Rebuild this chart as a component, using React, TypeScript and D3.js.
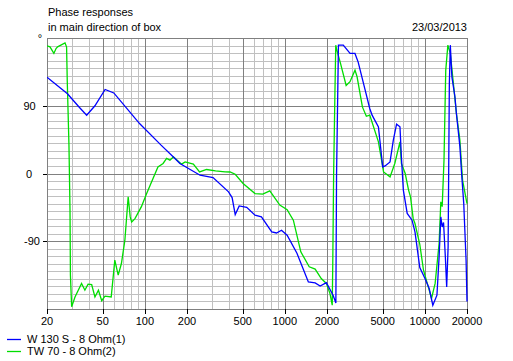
import React from "react";
import * as d3 from "d3";

const titleLines = ["Phase responses", "in main direction of box"];
const dateLabel = "23/03/2013";
const xTickValues = [20, 50, 100, 200, 500, 1000, 2000, 5000, 10000, 20000];
const yTickValues = [180, 90, 0, -90];
const yTickLabels = ["°", "90", "0", "-90"];
const seriesNames = ["W 130 S - 8 Ohm(1)", "TW 70 - 8 Ohm(2)"];

const blueFreq = [20, 28, 34, 38.4, 44, 52, 60, 92, 130, 164, 178, 248, 307, 396, 420, 442, 472, 534, 612, 680, 806, 872, 946, 1038, 1220, 1472, 1646, 1786, 1980, 2210, 2314, 2340, 2414, 2614, 2922, 3168, 3340, 3720, 4040, 4200, 4660, 5000, 5200, 5640, 5950, 6280, 6640, 6800, 7020, 7480, 8100, 8500, 8660, 9200, 10020, 10740, 11400, 12200, 12640, 13000, 13300, 13600, 14000, 14320, 14660, 14960, 15200, 15600, 16400, 16800, 17800, 18300, 18960, 19300, 19700, 20000];
const bluePhase = [128, 106, 88, 77.5, 90, 111.6, 107, 66, 38, 20, 13.3, -2.3, -5.3, -24.4, -32, -54.5, -43, -45, -55.4, -57.7, -77.6, -79, -75.4, -82, -106, -144, -145.4, -149.4, -145, -161.7, -172, -2, 170.5, 170.5, 159.5, 159.5, 148, 113, 86.4, 77.5, 62, 8.8, 10, 15.4, 44, 65.5, 62, 22, -22, -53, -62, -77.6, -88.6, -125, -139.6, -152.8, -175, -161.7, -110.8, -57.7, -71, -65, -110, -150.7, -97.5, 119.6, 170.5, 128.4, 102, 79.7, 35.4, 0, -40, -75, -115, -170];

const greenFreq = [20, 21, 22.4, 23.2, 23.8, 26.9, 27.6, 27.9, 28.7, 29.2, 29.4, 30, 31.7, 35.3, 37.3, 39.3, 41.7, 44, 46.6, 49.2, 51.9, 57.5, 61, 64.5, 68, 72, 76, 78.6, 80.5, 85, 94.5, 103, 124, 135, 143, 151, 160, 183, 194, 222, 246, 276, 320, 374, 406, 442, 503, 612, 696, 781, 920, 1038, 1150, 1300, 1493, 1646, 1820, 1980, 2100, 2180, 2200, 2230, 2280, 2310, 2350, 2500, 2740, 2920, 3170, 3280, 3580, 3820, 4040, 4660, 5070, 5640, 6100, 6640, 6800, 7240, 7650, 7900, 8250, 8500, 9200, 9780, 10740, 11160, 11840, 12640, 13000, 13300, 13700, 14100, 14600, 15200, 15900, 16800, 17800, 18600, 20000];
const greenPhase = [169.6, 168.3, 159.5, 166, 168.3, 173.6, 168, 124, 37.6, -48.8, -135, -177, -164, -146, -155, -147, -147.5, -164, -155, -169, -163, -164, -115, -135, -119.6, -88.6, -31, -57.7, -64.3, -60, -44, -26.6, 8.8, 13.3, 20, 17.7, 22, 12.4, 15.4, 12.4, 2.1, 5.3, 3.5, 2.1, 2, -1, -13.3, -26.6, -27.5, -23, -42, -48, -62, -104, -124, -127, -139.5, -146, -159.5, -175, -117, -3, 110.7, 170.5, 164, 146, 117, 122, 137.3, 128.5, 88.5, 76, 77.5, 42, 2.1, -4.5, 13.3, 42, 13.3, 0, -22, -31, -60, -66.5, -94, -128.5, -155, -166, -146, -93, -37.7, -44, 17.7, 137, 170.5, 159.5, 124, 80, 44, -9, -40];

const W = 513;
const H = 361;
const left = 47;
const right = 467;
const top = 38;
const bottom = 309;
const font = "'Liberation Sans', Arial, sans-serif";

export default function App() {
  const x = d3.scaleLog().domain([20, 20000]).range([left, right]);
  const y = d3.scaleLinear().domain([-180, 180]).range([bottom, top]);

  const minorF: number[] = [];
  for (let dec = 10; dec <= 10000; dec *= 10) {
    for (let m = 1; m <= 9; m++) {
      const f = m * dec;
      if (f >= 20 && f <= 20000) minorF.push(f);
    }
  }
  minorF.push(20000);
  const hLines = d3.range(-180, 181, 10);

  const line = d3
    .line<[number, number]>()
    .x((d) => x(d[0]))
    .y((d) => y(d[1]));

  const blue = blueFreq.map((f, i) => [f, bluePhase[i]] as [number, number]);
  const green = greenFreq.map((f, i) => [f, greenPhase[i]] as [number, number]);

  const labelDx: Record<string, number> = { "°": 40, "90": 29.5, "0": 29, "-90": 32 };
  const colors = ["#0000ff", "#00dd00"];

  return (
    <svg width={W} height={H} style={{ position: "absolute", left: 0, top: 0, background: "#fff" }}>
      <rect x={0} y={0} width={W} height={H} fill="#fff" />
      <defs>
        <clipPath id="plotclip">
          <rect x={left} y={top - 1} width={right - left + 1} height={bottom - top + 2} />
        </clipPath>
      </defs>
      {/* minor grid */}
      {hLines.filter((v) => v % 90 !== 0).map((v) => (
        <line key={"h" + v} x1={left} x2={right} y1={Math.round(y(v)) + 0.5} y2={Math.round(y(v)) + 0.5} stroke="#c0c0c0" strokeWidth={1} />
      ))}
      {minorF.filter((f) => !xTickValues.includes(f)).map((f) => (
        <line key={"v" + f} x1={Math.round(x(f)) + 0.5} x2={Math.round(x(f)) + 0.5} y1={top} y2={bottom} stroke="#c0c0c0" strokeWidth={1} />
      ))}
      {/* major grid */}
      {hLines.filter((v) => v % 90 === 0).map((v) => (
        <line key={"H" + v} x1={left} x2={right} y1={Math.round(y(v)) + 0.5} y2={Math.round(y(v)) + 0.5} stroke="#808080" strokeWidth={1} />
      ))}
      {xTickValues.map((f) => (
        <line key={"V" + f} x1={Math.round(x(f)) + 0.5} x2={Math.round(x(f)) + 0.5} y1={top} y2={bottom} stroke="#808080" strokeWidth={1} />
      ))}
      {/* ticks */}
      {xTickValues.map((f) => (
        <line key={"xt" + f} x1={Math.round(x(f)) + 0.5} x2={Math.round(x(f)) + 0.5} y1={bottom} y2={bottom + 5} stroke="#000" strokeWidth={1} />
      ))}
      {yTickValues.filter((v) => v !== 180).map((v) => (
        <line key={"yt" + v} x1={left - 4} x2={left} y1={Math.round(y(v)) + 0.5} y2={Math.round(y(v)) + 0.5} stroke="#000" strokeWidth={1} />
      ))}
      {/* curves */}
      <g clipPath="url(#plotclip)">
        <path d={line(green) || ""} fill="none" stroke={colors[1]} strokeWidth={1.3} />
        <path d={line(blue) || ""} fill="none" stroke={colors[0]} strokeWidth={1.3} />
      </g>
      {/* labels */}
      {xTickValues.map((f) => (
        <text key={"xl" + f} x={x(f)} y={325} textAnchor="middle" fontFamily={font} fontSize={11} fill="#000">
          {f}
        </text>
      ))}
      {yTickValues.map((v, i) => (
        <text key={"yl" + v} x={labelDx[yTickLabels[i]]} y={y(v) + 4} textAnchor="middle" fontFamily={font} fontSize={11} fill="#000">
          {yTickLabels[i]}
        </text>
      ))}
      <text x={48} y={15.5} fontFamily={font} fontSize={11} fill="#000">{titleLines[0]}</text>
      <text x={48} y={30.5} fontFamily={font} fontSize={11} fill="#000">{titleLines[1]}</text>
      <text x={467} y={30.5} textAnchor="end" fontFamily={font} fontSize={11} fill="#000">{dateLabel}</text>
      {seriesNames.map((s, i) => (
        <g key={s}>
          <line x1={7} x2={21} y1={339.5 + i * 12} y2={339.5 + i * 12} stroke={colors[i]} strokeWidth={1.3} />
          <text x={27} y={343 + i * 12} fontFamily={font} fontSize={11} fill="#000">{s}</text>
        </g>
      ))}
    </svg>
  );
}
